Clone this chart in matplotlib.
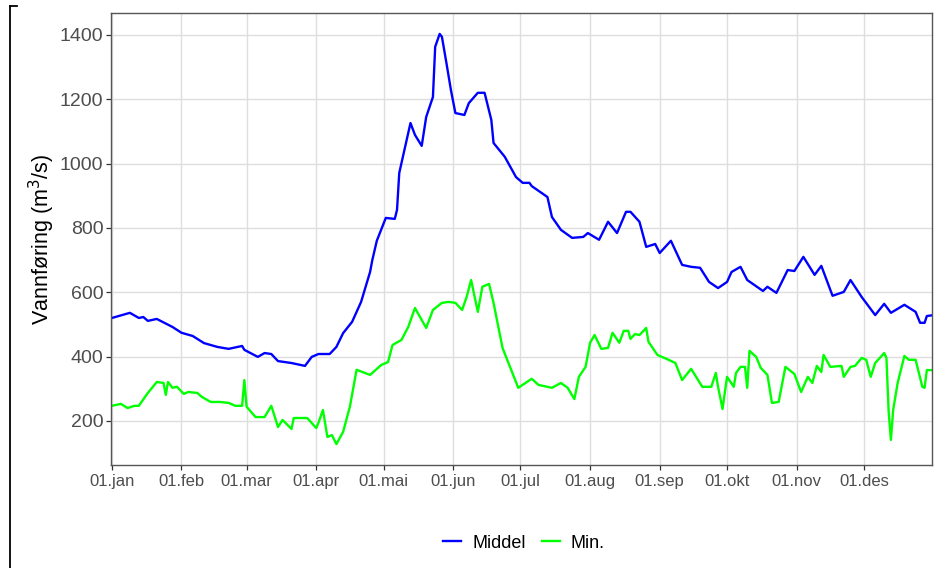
import matplotlib
matplotlib.use('Agg')
import matplotlib.pyplot as plt
from matplotlib.lines import Line2D

plt.rcParams['font.family'] = ['Liberation Sans', 'DejaVu Sans']

# day of year (0 = 01.jan) and flow values
middel_day = [0, 8, 12, 14, 16, 20, 27, 31, 36, 41, 47, 52, 56, 58, 59, 65, 68, 71, 74, 80,
              86, 89, 92, 97, 100, 103, 107, 111, 115, 116, 118, 122, 126, 127, 128, 131, 133,
              135, 138, 140, 143, 144, 146, 147, 149, 151, 153, 157, 159, 163, 166, 169, 170,
              175, 180, 183, 186, 187, 194, 196, 200, 205, 210, 212, 217, 221, 225, 229, 231,
              235, 238, 242, 244, 249, 254, 258, 262, 266, 270, 274, 276, 280, 283, 290, 292,
              296, 301, 304, 308, 313, 316, 321, 326, 329, 334, 340, 344, 347, 353, 358, 360,
              362, 363, 365]
middel = [520, 536, 520, 523, 511, 517, 492, 474, 464, 442, 430, 424, 430, 433, 421, 399, 411,
          408, 386, 380, 371, 399, 408, 408, 430, 473, 508, 570, 663, 700, 760, 831, 828, 856,
          971, 1064, 1126, 1089, 1055, 1145, 1207, 1363, 1403, 1394, 1313, 1229, 1157, 1151,
          1188, 1220, 1220, 1136, 1064, 1021, 958, 940, 940, 930, 896, 834, 794, 769, 772, 784,
          763, 819, 784, 850, 850, 819, 741, 750, 722, 760, 685, 679, 676, 632, 613, 632, 663,
          679, 638, 604, 617, 598, 669, 666, 710, 654, 682, 589, 601, 638, 585, 529, 564, 536,
          561, 539, 505, 505, 526, 528]

min_day = [0, 4, 7, 10, 12, 16, 20, 23, 24, 25, 27, 29, 32, 34, 38, 40, 44, 48, 52, 55, 58, 59,
           60, 64, 68, 71, 74, 76, 80, 81, 87, 91, 92, 94, 96, 98, 100, 103, 106, 109, 115, 120,
           123, 125, 129, 132, 135, 140, 143, 147, 150, 153, 156, 158, 160, 163, 165, 168, 170,
           174, 177, 181, 187, 190, 196, 200, 203, 206, 208, 211, 213, 215, 218, 221, 223, 226,
           228, 230, 231, 233, 235, 238, 239, 243, 248, 251, 254, 258, 263, 267, 269, 270, 272,
           274, 277, 278, 280, 282, 283, 284, 287, 289, 292, 294, 297, 300, 304, 307, 310, 312,
           314, 316, 317, 320, 325, 326, 329, 331, 334, 336, 338, 340, 344, 345, 346, 347, 348,
           350, 353, 355, 358, 361, 362, 363, 365]
min_val = [247, 253, 240, 247, 247, 287, 321, 318, 281, 321, 303, 306, 284, 290, 287, 275, 259,
           259, 256, 247, 247, 327, 244, 212, 212, 247, 181, 203, 175, 209, 209, 178, 194, 234,
           150, 156, 128, 166, 244, 359, 343, 374, 383, 436, 452, 492, 551, 489, 545, 567, 570,
           567, 545, 585, 638, 539, 617, 626, 567, 427, 374, 303, 331, 312, 303, 318, 303, 268,
           337, 368, 443, 467, 424, 427, 474, 443, 480, 480, 455, 470, 467, 489, 446, 405, 390,
           380, 327, 362, 306, 306, 349, 306, 237, 337, 306, 349, 368, 368, 303, 418, 399, 365,
           343, 256, 259, 368, 346, 290, 337, 318, 371, 352, 405, 368, 371, 337, 368, 371, 396,
           390, 337, 380, 411, 396, 228, 141, 234, 318, 402, 390, 390, 306, 303, 358, 358]

month_days = [0, 31, 60, 91, 121, 152, 182, 213, 244, 274, 305, 335]
month_labels = ['01.jan', '01.feb', '01.mar', '01.apr', '01.mai', '01.jun',
                '01.jul', '01.aug', '01.sep', '01.okt', '01.nov', '01.des']

fig = plt.figure(figsize=(9.36, 5.68), dpi=100)
ax = fig.add_axes([111/936, 1-465/568, (932-111)/936, (465-13)/568])

ax.plot(middel_day, middel, color='#0000FF', lw=1.7, label='Middel')
ax.plot(min_day, min_val, color='#00FF00', lw=1.7, label='Min.')

ax.set_xlim(-0.4, 365.3)
ax.set_ylim(63, 1468)
ax.set_xticks(month_days)
ax.set_xticklabels(month_labels)
ax.set_yticks([200, 400, 600, 800, 1000, 1200, 1400])
ax.grid(True, color='#DEDEDE', lw=1.0)
ax.set_axisbelow(True)
for s in ax.spines.values():
    s.set_color('#555555')
    s.set_linewidth(1.0)
ax.tick_params(axis='both', direction='out', length=3.5, width=0.9, color='#333333',
               labelcolor='#4D4D4D')
ax.tick_params(axis='y', labelsize=14, pad=2)
ax.tick_params(axis='x', labelsize=12, pad=3)
ax.set_ylabel('Vannføring (m$^3$/s)', fontsize=15.5, labelpad=2)

fig.legend(loc='center', bbox_to_anchor=(524/936, 1-543/568), ncol=2, frameon=False,
           fontsize=13, handlelength=1.0, handletextpad=0.6, columnspacing=0.9)

# bracket line on the far left
fig.add_artist(Line2D([10/936, 10/936], [0, 1-6/568], color='black', lw=1.3,
                      transform=fig.transFigure))
fig.add_artist(Line2D([10/936, 17/936], [1-6/568, 1-6/568], color='black', lw=1.3,
                      transform=fig.transFigure))

fig.savefig('out.png', dpi=100)
